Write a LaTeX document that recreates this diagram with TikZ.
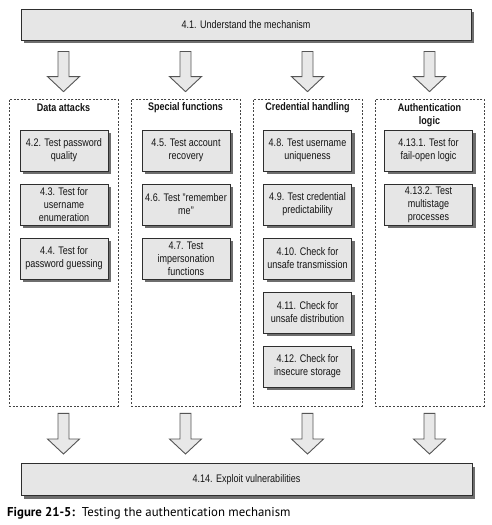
\documentclass[tikz,border=0pt]{standalone}
\usepackage{fontspec}
\setmainfont{Liberation Sans}[FakeStretch=0.82]
\newfontfamily\capfont{PT Sans}
\usetikzlibrary{shadows,calc}

\definecolor{boxfill}{HTML}{E6E6E6}
\definecolor{boxline}{HTML}{2E2E2E}
\definecolor{shadowcol}{HTML}{6E6E6E}
\definecolor{arrowline}{HTML}{555555}
\definecolor{arrowfill}{HTML}{E8E8E8}
\definecolor{frameline}{HTML}{444444}
\definecolor{textcol}{HTML}{141414}

\tikzset{
  boxbase/.style={draw=boxline, fill=boxfill, line width=1pt, inner sep=1pt,
    align=center, text=textcol, font=\fontsize{11}{13}\selectfont,
    drop shadow={shadow xshift=3pt, shadow yshift=-3pt, fill=shadowcol, opacity=1}},
  stepbox/.style={boxbase, minimum width=88pt, minimum height=41pt},
  widebox/.style={boxbase, minimum width=450pt, minimum height=31pt},
  groupframe/.style={draw=frameline, line width=0.8pt, dash pattern=on 2pt off 1.6pt,
    minimum width=109pt, minimum height=307pt, inner sep=0pt},
  heading/.style={align=center, text=textcol, font=\fontsize{11}{13}\selectfont\bfseries},
  blockarrow/.style={draw=arrowline, fill=arrowfill, line width=0.9pt, line join=miter},
}

% hollow block arrow: #1 start point, #2 end point (gives the x), #3 gap at start, #4 gap at end
\newcommand\hollowarrow[4]{%
  \draw[blockarrow] let \p1=(#1), \p2=(#2) in
    (\x2-5.5pt,\y1-#3) -- (\x2+5.5pt,\y1-#3) -- (\x2+5.5pt,\y2+#4+15pt)
    -- (\x2+16pt,\y2+#4+15pt) -- (\x2,\y2+#4) -- (\x2-16pt,\y2+#4+15pt)
    -- (\x2-5.5pt,\y2+#4+15pt) -- cycle;}

\begin{document}
\begin{tikzpicture}[x=1pt,y=-1pt]
\useasboundingbox[fill=white] (0,0) rectangle (491,525);

% first and last steps
\node[widebox] (top) at (246,24.5) {4.1. Understand the mechanism};
\node[widebox, minimum width=451pt, minimum height=32pt] (bottom) at (246.5,479.5) {4.14. Exploit vulnerabilities};

% group frames
\node[groupframe] (f1) at (63.5,252.5) {};
\node[groupframe] (f2) at (185.5,252.5) {};
\node[groupframe] (f3) at (307.5,252.5) {};
\node[groupframe] (f4) at (429.5,252.5) {};

% group headings
\node[heading] (h1) at (63.5,108) {Data attacks};
\node[heading] (h2) at (185.5,108) {Special functions};
\node[heading] (h3) at (307.5,108) {Credential handling};
\node[heading] (h4) at (429.5,115.5) {Authentication\\logic};

% data attacks
\node[stepbox] (s42) at (64,150.5) {4.2. Test password\\quality};
\node[stepbox] (s43) at (64,204.5) {4.3. Test for\\username\\enumeration};
\node[stepbox] (s44) at (64,258.5) {4.4. Test for\\password guessing};

% special functions
\node[stepbox] (s45) at (186,150.5) {4.5. Test account\\recovery};
\node[stepbox] (s46) at (186,204.5) {4.6. Test "remember\\me"};
\node[stepbox] (s47) at (186,258.5) {4.7. Test\\impersonation\\functions};

% credential handling
\node[stepbox] (s48) at (307.5,150.5) {4.8. Test username\\uniqueness};
\node[stepbox] (s49) at (307.5,204.5) {4.9. Test credential\\predictability};
\node[stepbox] (s410) at (307.5,258.5) {4.10. Check for\\unsafe transmission};
\node[stepbox] (s411) at (307.5,312.5) {4.11. Check for\\unsafe distribution};
\node[stepbox] (s412) at (307.5,366.5) {4.12. Check for\\insecure storage};

% authentication logic
\node[stepbox] (s4131) at (428.5,150.5) {4.13.1. Test for\\fail-open logic};
\node[stepbox] (s4132) at (428.5,204.5) {4.13.2. Test\\multistage\\processes};

% arrows into the groups
\foreach \f in {f1,f2,f3,f4}{
  \hollowarrow{top.south}{\f.north}{11pt}{7pt}
  \hollowarrow{\f.south}{bottom.north -| \f.south}{7pt}{9pt}
}

% caption
\node[anchor=west, inner sep=0pt, font=\capfont\fontsize{12.8}{15}\selectfont] (cap) at (7,513)
  {\textbf{Figure 21-5:}\ \ Testing the authentication mechanism};
\end{tikzpicture}
\end{document}
